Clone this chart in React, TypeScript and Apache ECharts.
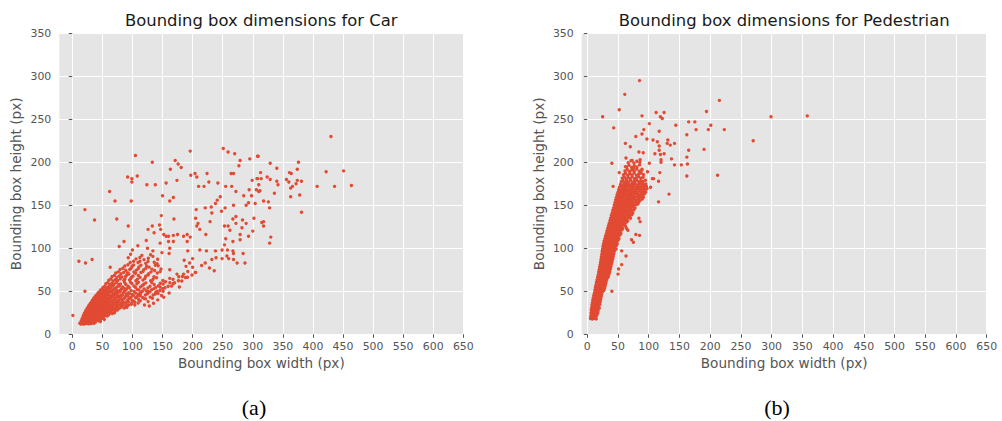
import React, { useEffect, useRef } from "react";
import * as echarts from "echarts";

// ---------- data ----------
const panelTitles = ["Bounding box dimensions for Car", "Bounding box dimensions for Pedestrian"];
const panelTags = ["(a)", "(b)"];
const xAxisName = "Bounding box width (px)";
const yAxisName = "Bounding box height (px)";
const xMax = 650;
const yMax = 350;
const tickStep = 50;

// Car: dense cluster of small boxes [width, height]
const carCluster: number[][] = [
  [12.5,12.8],[14.1,11.9],[15.6,13.6],[16.9,12.3],[18.4,13.1],[19.8,11.8],[21.5,12.9],[22.7,14.2],[24.3,12.4],[26.0,13.5],[27.6,12.1],[29.4,13.8],[31.2,12.6],[33.5,13.3],[36.1,12.8],[38.4,14.0],
  [14.8,15.4],[16.3,16.7],[17.7,14.9],[19.2,16.1],[20.6,15.2],[22.1,16.9],[23.9,15.6],[25.2,14.7],[26.8,16.4],[28.5,15.3],[30.1,16.8],[31.8,14.8],[33.4,16.2],[35.3,15.1],[37.0,16.6],[39.2,15.4],[41.5,16.9],[44.0,15.7],[46.8,14.9],
  [16.5,18.8],[18.1,17.4],[19.6,19.5],[21.3,18.1],[22.8,19.9],[24.5,17.6],[25.9,19.1],[27.4,18.3],[29.2,19.7],[30.7,17.5],[32.3,18.9],[34.0,17.8],[35.8,19.6],[37.6,18.2],[39.5,19.3],[41.2,17.6],[43.1,18.8],[45.4,19.7],[47.9,17.9],[50.6,18.6],[53.3,17.3],
  [18.2,21.6],[19.9,22.8],[21.4,20.7],[23.0,22.1],[24.6,23.4],[26.1,21.2],[27.9,22.6],[29.5,20.9],[31.0,23.1],[32.8,21.7],[34.4,22.9],[36.3,20.6],[38.0,22.3],[39.9,21.4],[41.7,23.2],[43.6,20.8],[45.5,22.4],[47.7,21.1],[50.0,22.7],[52.6,20.9],[55.2,22.2],[58.1,21.3],[61.0,22.9],
  [20.1,24.6],[21.8,25.7],[23.4,23.9],[25.0,25.3],[26.7,24.1],[28.3,25.9],[30.0,24.4],[31.7,25.6],[33.3,23.8],[35.0,25.1],[36.8,24.2],[38.6,25.8],[40.4,24.5],[42.3,23.7],[44.1,25.4],[46.2,24.0],[48.4,25.6],[50.5,23.8],[52.9,25.2],[55.4,24.1],[58.0,25.7],[60.7,24.3],[63.5,25.5],[66.6,24.2],[70.2,25.1],
  [22.3,27.4],[24.0,28.6],[25.6,26.7],[27.3,28.1],[29.0,26.9],[30.6,28.7],[32.4,27.2],[34.1,28.3],[35.9,26.6],[37.7,27.9],[39.4,28.8],[41.3,26.8],[43.2,28.0],[45.2,27.1],[47.3,28.7],[49.5,26.9],[51.8,28.2],[54.2,27.3],[56.7,28.9],[59.3,26.8],[62.0,28.1],[64.9,27.0],[68.0,28.5],[71.4,27.4],[75.1,28.2],
  [24.8,30.4],[26.5,31.6],[28.2,29.8],[29.9,31.2],[31.7,30.1],[33.4,31.8],[35.2,29.6],[37.1,30.9],[39.0,31.7],[40.9,29.9],[42.8,31.3],[44.9,30.2],[47.0,31.9],[49.2,29.7],[51.5,31.0],[53.9,30.4],[56.4,31.8],[59.0,29.8],[61.8,31.1],[64.7,30.3],[67.8,31.6],[71.0,29.9],[74.5,31.4],[78.2,30.2],[82.1,31.7],[86.3,30.5],[90.8,31.3],
  [27.4,33.3],[29.2,34.6],[31.0,32.7],[32.8,34.0],[34.6,33.1],[36.5,34.8],[38.4,32.6],[40.4,33.9],[42.4,34.7],[44.5,32.8],[46.6,34.2],[48.8,33.0],[51.1,34.6],[53.5,32.5],[56.0,33.8],[58.6,34.9],[61.3,32.9],[64.1,34.1],[67.1,33.2],[70.3,34.7],[73.6,32.8],[77.1,34.0],[80.8,33.1],[84.7,34.5],[88.9,32.7],[93.4,33.9],[98.1,34.8],
  [30.2,36.2],[32.1,37.4],[34.0,35.7],[35.9,37.1],[37.9,36.0],[39.9,37.8],[42.0,35.6],[44.1,36.9],[46.3,37.7],[48.6,35.8],[51.0,37.2],[53.4,36.1],[56.0,37.6],[58.7,35.5],[61.5,36.8],[64.4,37.9],[67.5,35.9],[70.7,37.1],[74.1,36.2],[77.7,37.5],[81.4,35.8],[85.3,37.0],[89.5,36.1],[94.0,37.4],[98.8,35.9],[104.0,37.2],[109.5,36.3],
  [33.1,39.2],[35.1,40.5],[37.2,38.6],[39.3,40.1],[41.4,39.0],[43.6,40.8],[45.9,38.5],[48.2,39.8],[50.6,40.6],[53.1,38.8],[55.7,40.2],[58.4,39.1],[61.2,40.7],[64.1,38.4],[67.2,39.7],[70.4,40.9],[73.8,38.8],[77.3,40.0],[82.3,39.6],[85.1,41.0],[90.7,38.4],[92.6,40.3],[99.4,39.7],[102.1,38.6],[110.2,40.4],[113.0,38.9],[121.8,41.2],
  [36.0,42.3],[38.2,43.6],[40.4,41.7],[42.6,43.1],[44.9,42.0],[47.3,43.8],[49.8,41.5],[52.4,42.8],[55.1,43.7],[57.9,41.8],[60.8,43.2],[63.8,42.1],[67.0,43.6],[70.3,41.4],[73.8,42.7],[77.4,43.9],[80.1,42.6],[86.7,42.0],[88.5,43.9],[95.2,41.9],[97.6,43.1],[105.3,42.4],[107.9,44.0],[116.8,42.7],[119.6,41.5],[129.5,43.2],[133.1,42.0],
  [39.4,45.1],[41.7,46.4],[44.1,44.6],[46.5,46.0],[49.0,45.0],[51.6,46.7],[54.3,44.5],[57.1,45.8],[60.0,46.6],[63.1,44.7],[66.3,46.1],[69.6,45.1],[73.1,46.6],[76.8,44.4],[80.6,45.7],[83.2,45.3],[89.9,46.9],[92.1,44.6],[99.6,46.3],[101.7,45.0],[109.8,46.6],[112.5,44.9],[121.4,45.8],[124.7,47.0],[134.4,45.6],[138.0,46.9],[148.3,45.2],
  [43.0,48.3],[45.5,49.5],[48.0,47.6],[50.6,49.0],[53.3,48.0],[56.1,49.7],[59.0,47.5],[62.0,48.8],[65.2,49.6],[68.5,47.7],[72.0,49.1],[75.6,48.1],[79.4,49.6],[84.7,48.0],[86.3,49.9],[93.6,48.4],[95.0,47.3],[102.9,49.7],[105.2,47.9],[113.6,48.6],[116.4,50.0],[125.5,47.8],[128.8,49.3],[138.7,48.7],[142.6,47.6],
  [47.0,51.4],[49.7,52.6],[52.4,50.7],[55.2,52.1],[58.2,51.0],[61.3,52.8],[64.5,50.5],[67.9,51.8],[71.4,52.7],[75.1,50.8],[80.2,51.5],[82.0,53.0],[88.6,51.2],[90.5,52.9],[97.8,50.9],[107.9,52.0],[110.8,51.4],[119.4,52.8],[122.6,50.6],[131.9,51.8],[135.7,53.1],[145.8,51.0],[150.4,53.3],
  [51.3,54.6],[54.2,55.9],[57.2,53.8],[60.3,55.3],[63.6,54.2],[67.0,56.1],[70.6,53.7],[74.4,55.0],[78.3,56.2],[83.8,55.1],[85.5,53.7],[92.7,55.8],[94.8,54.1],[102.5,56.2],[104.9,54.6],[113.4,55.0],[116.5,56.7],[125.6,54.0],[129.2,55.9],[139.0,54.8],[143.5,56.5],[154.2,54.1],[159.3,55.9],
  [55.8,58.7],[59.0,60.1],[62.3,57.9],[65.8,59.4],[69.4,58.3],[73.2,60.3],[77.2,57.8],[80.0,58.4],[87.2,59.9],[89.1,58.0],[96.7,60.6],[99.0,59.1],[107.3,58.7],[110.0,60.4],[119.0,58.2],[122.3,59.8],[132.0,60.3],[136.0,58.0],[146.4,59.3],[151.1,58.5],[162.2,60.0],[167.7,58.8],
  [60.7,62.9],[64.2,64.3],[67.8,62.0],[71.6,63.6],[75.6,62.5],[79.8,64.5],[85.7,62.6],[87.3,64.0],[95.2,63.1],[97.3,64.8],[105.7,62.2],[108.4,63.9],[117.4,63.0],[120.7,64.9],[130.3,62.4],[134.3,64.1],[150.6,62.5],[167.5,63.9],[176.4,62.2],
  [66.1,67.1],[69.9,68.5],[73.9,66.2],[78.1,67.8],[82.5,66.7],[88.6,67.3],[90.5,68.9],[98.6,66.4],[101.0,67.9],[109.7,68.3],[112.7,66.2],[122.0,67.6],[125.7,68.9],[135.7,67.0],[140.1,65.8],[183.0,67.2],[191.5,66.4],
  [72.3,71.2],[76.5,72.6],[80.9,70.3],[85.5,71.9],[91.9,71.5],[94.0,70.1],[102.4,72.4],[105.1,70.9],[114.1,71.8],[117.4,73.1],[127.0,70.5],[131.0,72.6],[141.3,71.3],[146.1,72.9],[204.5,71.8],
  [79.5,75.3],[84.1,76.7],[88.9,74.4],[95.5,75.4],[97.9,76.8],[106.5,74.6],[109.5,76.3],[118.8,75.0],[122.4,76.9],[132.4,75.8],[136.8,74.2],[147.5,76.0],
  [87.4,79.4],[92.5,80.8],[99.3,79.2],[101.9,80.6],[110.8,78.3],[114.1,80.4],[123.7,79.5],[127.7,78.1],[138.1,80.2],[142.8,79.6],
  [96.2,83.5],[101.8,85.0],[109.2,83.4],[112.4,84.9],[122.0,82.5],[125.9,84.6],[136.2,83.8],[140.9,82.2],
  [105.9,87.7],[112.4,89.4],[119.2,86.8],[126.4,88.5],[134.0,90.6],[141.9,87.3],[115.7,91.8],[130.1,92.4],
  [170,60],[182,62],[188,66],[205,72],[215,80],[165,56],[185,70],[135,36],[142,40],[120,34],[128,33],
];

// Car: scattered mid-size boxes
const carMid: number[][] = [
  [1,22],[11,85],[22,83],[33,87],[21,50],[63,78],[78,102],[86,108],[93,89],[97,93],[100,98],[109,103],[123,109],[125,100],[134,97],
  [146,106],[156,114],[160,108],[168,108],[162,100],[161,94],[149,95],[185,114],[191,108],[192,97],[186,86],[200,88],[195,83],[189,79],
  [200,78],[192,73],[199,69],[177,67],[178,55],[174,70],[162,75],[162,65],[161,48],[152,43],[212,98],[223,97],[238,97],[249,98],[258,98],
  [239,89],[232,87],[221,83],[228,77],[236,74],[249,88],[257,91],[267,97],[267,108],[279,110],[268,87],[260,88],[146,55],[141,50],
  [155,61],[151,50],[126,50],[113,46],[126,38],[104,34],[287,83],[274,83],[262,121],[253,104],[268,94],[284,94],[272,129],
];

// Car: upper spread of large boxes
const carUpper: number[][] = [
  [105,208],[196,213],[251,216],[259,212],[270,210],[308,207],[133,200],[171,202],[176,198],[181,194],[163,192],[197,185],[204,187],[207,183],
  [224,187],[279,202],[277,196],[295,204],[264,187],[268,187],[92,183],[99,181],[99,177],[108,184],[124,174],[138,174],[156,176],[174,179],
  [62,166],[71,155],[98,155],[21,145],[37,133],[74,134],[93,126],[150,161],[162,155],[168,159],[148,138],[169,134],[126,122],[133,126],
  [136,118],[145,127],[147,122],[152,116],[160,114],[168,115],[175,116],[191,116],[196,113],[209,129],[207,126],[212,122],[222,116],
  [205,135],[206,145],[221,147],[231,148],[232,141],[229,131],[238,152],[241,156],[246,160],[248,143],[254,147],[210,172],[219,172],
  [227,177],[242,176],[255,172],[265,172],[272,166],[285,161],[293,153],[298,161],[289,150],[310,166],[307,181],[299,179],[294,168],
  [268,150],[272,137],[267,134],[259,126],[253,126],[283,133],[289,129],[302,135],[282,124],[300,120],[293,114],[279,116],[255,111],
];

// Car: far right (very wide boxes)
const carFar: number[][] = [
  [430,230],[309,207],[329,199],[376,200],[340,193],[313,188],[361,188],[364,187],[374,192],[422,189],[451,190],[324,183],[329,180],
  [314,181],[308,181],[340,178],[342,174],[356,180],[360,177],[374,179],[381,178],[372,175],[366,172],[363,170],[407,172],[436,172],
  [464,173],[310,174],[306,168],[312,167],[336,164],[363,160],[378,162],[318,155],[326,154],[328,147],[304,152],[381,142],[315,130],
  [318,126],[330,113],[328,106],[318,131],
];

// Pedestrian: dense narrow band, lower half
const pedBandLow: number[][] = [
  [5.2,18.3],[6.9,19.6],[8.3,17.8],[9.8,19.1],[11.4,18.6],[13.1,19.8],[14.6,17.9],
  [5.6,21.4],[7.1,22.7],[8.8,20.9],[10.3,22.2],[11.9,21.1],[13.5,22.9],[15.2,21.6],
  [6.1,24.8],[7.6,23.5],[9.2,25.6],[10.8,24.2],[12.3,25.9],[14.0,23.7],[15.6,25.1],[17.1,24.4],
  [6.5,27.9],[8.1,26.6],[9.7,28.5],[11.2,27.1],[12.8,28.8],[14.4,26.8],[16.0,28.2],[17.6,27.4],
  [7.0,30.6],[8.6,31.8],[10.1,29.7],[11.7,31.2],[13.3,30.1],[14.9,31.9],[16.5,29.8],[18.1,31.0],[19.5,30.4],
  [7.6,33.9],[9.1,32.7],[10.7,34.6],[12.3,33.2],[13.8,34.9],[15.5,32.8],[17.1,34.1],[18.7,33.4],[20.2,34.7],
  [8.2,36.4],[9.8,37.7],[11.3,35.8],[12.9,37.2],[14.5,36.1],[16.1,37.9],[17.8,35.6],[19.4,36.8],[21.0,37.5],
  [8.9,39.6],[10.5,38.4],[12.0,40.5],[13.6,39.1],[15.2,40.8],[16.9,38.7],[18.5,40.0],[20.1,39.3],[21.8,40.6],
  [9.7,42.3],[11.2,43.6],[12.8,41.7],[14.4,43.2],[16.0,42.0],[17.7,43.9],[19.3,41.6],[21.0,42.8],[22.6,43.5],
  [10.6,45.5],[12.1,44.3],[13.7,46.4],[15.3,45.0],[16.9,46.7],[18.6,44.6],[20.2,45.9],[21.9,45.2],[23.5,46.5],
  [11.5,48.2],[13.0,49.6],[14.6,47.5],[16.2,49.0],[17.9,48.0],[19.5,49.8],[21.2,47.6],[22.9,48.7],[24.6,49.5],
  [12.4,51.4],[13.9,52.7],[15.5,50.6],[17.2,52.1],[18.8,51.0],[20.5,52.9],[22.2,50.7],[23.9,51.8],[25.7,52.5],[27.3,51.2],
  [13.2,54.6],[14.8,53.4],[16.4,55.5],[18.1,54.1],[19.8,55.8],[21.5,53.7],[23.2,55.0],[24.9,54.3],[26.7,55.6],[28.4,54.0],
  [14.1,57.3],[15.7,58.6],[17.3,56.5],[19.0,58.1],[20.7,57.0],[22.4,58.9],[24.2,56.6],[25.9,57.8],[27.7,58.5],[29.5,57.1],
  [15.0,60.5],[16.6,59.3],[18.2,61.4],[19.9,60.0],[21.6,61.7],[23.4,59.6],[25.1,60.9],[26.9,60.2],[28.7,61.5],[30.5,59.9],
  [15.9,63.2],[17.5,64.5],[19.2,62.4],[20.9,64.0],[22.6,62.9],[24.4,64.8],[26.1,62.5],[27.9,63.7],[29.8,64.4],[31.6,63.0],
  [16.8,66.4],[18.4,65.2],[20.1,67.3],[21.8,65.9],[23.6,67.6],[25.3,65.5],[27.1,66.8],[28.9,66.1],[30.8,67.4],[32.7,65.8],[34.3,66.9],
  [17.7,69.1],[19.3,70.4],[21.0,68.3],[22.8,69.9],[24.5,68.8],[26.3,70.7],[28.1,68.4],[30.0,69.6],[31.9,70.3],[33.8,68.9],[35.5,70.0],
  [18.5,72.3],[20.2,71.1],[21.9,73.2],[23.7,71.8],[25.4,73.5],[27.2,71.4],[29.1,72.7],[31.0,72.0],[32.9,73.3],[34.8,71.7],[36.6,72.8],
  [19.3,75.0],[21.0,76.3],[22.8,74.2],[24.6,75.8],[26.3,74.7],[28.1,76.6],[30.0,74.3],[31.9,75.5],[33.8,76.2],[35.7,74.8],[37.6,75.9],
  [20.1,78.2],[21.8,77.0],[23.6,79.1],[25.4,77.7],[27.2,79.4],[29.0,77.3],[30.9,78.6],[32.8,77.9],[34.7,79.2],[36.7,77.6],[38.6,78.7],
  [20.9,81.0],[22.6,82.3],[24.4,80.2],[26.2,81.8],[28.0,80.7],[29.9,82.6],[31.8,80.3],[33.7,81.5],[35.6,82.2],[37.6,80.8],[39.6,81.9],
  [21.6,84.2],[23.4,83.0],[25.2,85.1],[27.0,83.7],[28.8,85.4],[30.7,83.3],[32.6,84.6],[34.5,83.9],[36.5,85.2],[38.5,83.6],[40.5,84.7],
  [22.3,87.0],[24.1,88.3],[25.9,86.2],[27.8,87.8],[29.6,86.7],[31.5,88.6],[33.4,86.3],[35.4,87.5],[37.4,88.2],[39.4,86.8],[41.5,87.9],
  [23.0,90.2],[24.8,89.0],[26.6,91.1],[28.5,89.7],[30.4,91.4],[32.3,89.3],[34.2,90.6],[36.2,89.9],[38.2,91.2],[40.3,89.6],[42.4,90.7],
  [23.6,93.0],[25.4,94.3],[27.3,92.2],[29.2,93.8],[31.1,92.7],[33.0,94.6],[35.0,92.3],[37.0,93.5],[39.0,94.2],[41.1,92.8],[43.3,93.9],
  [24.2,96.2],[26.0,95.0],[27.9,97.1],[29.8,95.7],[31.7,97.4],[33.7,95.3],[35.7,96.6],[37.7,95.9],[39.8,97.2],[41.9,95.6],[44.1,96.7],
];

// Pedestrian: dense band, upper half
const pedBandHigh: number[][] = [
  [24.8,99.0],[26.6,100.3],[28.5,98.2],[30.4,99.8],[32.4,98.7],[34.4,100.6],[36.4,98.3],[38.4,99.5],[40.5,100.2],[42.7,98.8],[44.9,99.9],[47.0,99.2],
  [25.5,102.2],[27.3,101.0],[29.2,103.1],[31.2,101.7],[33.1,103.4],[35.1,101.3],[37.1,102.6],[39.2,101.9],[41.3,103.2],[43.5,101.6],[45.7,102.7],[47.8,103.4],
  [26.3,105.0],[28.1,106.3],[30.0,104.2],[32.0,105.8],[33.9,104.7],[35.9,106.6],[38.0,104.3],[40.1,105.5],[42.2,106.2],[44.4,104.8],[46.6,105.9],[48.8,105.2],
  [27.3,108.2],[29.1,107.0],[31.0,109.1],[33.0,107.7],[35.0,109.4],[37.0,107.3],[39.1,108.6],[41.2,107.9],[43.4,109.2],[45.6,107.6],[47.9,108.7],[50.1,109.4],
  [28.5,111.0],[30.3,112.3],[32.2,110.2],[34.2,111.8],[36.2,110.7],[38.2,112.6],[40.3,110.3],[42.5,111.5],[44.7,112.2],[46.9,110.8],[49.2,111.9],[51.5,111.2],
  [29.7,114.2],[31.5,113.0],[33.5,115.1],[35.5,113.7],[37.5,115.4],[39.6,113.3],[41.7,114.6],[43.9,113.9],[46.1,115.2],[48.4,113.6],[50.7,114.7],[53.0,115.4],
  [30.9,117.0],[32.8,118.3],[34.7,116.2],[36.8,117.8],[38.8,116.7],[40.9,118.6],[43.1,116.3],[45.3,117.5],[47.6,118.2],[49.9,116.8],[52.3,117.9],[54.7,117.2],
  [32.0,120.2],[33.9,119.0],[35.9,121.1],[38.0,119.7],[40.1,121.4],[42.2,119.3],[44.5,120.6],[46.7,119.9],[49.0,121.2],[51.4,119.6],[53.8,120.7],[56.3,121.4],
  [33.2,123.0],[35.1,124.3],[37.2,122.2],[39.3,123.8],[41.4,122.7],[43.6,124.6],[45.9,122.3],[48.2,123.5],[50.5,124.2],[52.9,122.8],[55.4,123.9],[57.9,123.2],
  [34.4,126.2],[36.4,125.0],[38.5,127.1],[40.6,125.7],[42.8,127.4],[45.0,125.3],[47.3,126.6],[49.7,125.9],[52.1,127.2],[54.5,125.6],[57.0,126.7],[59.6,127.4],[62.2,126.0],
  [35.6,129.0],[37.6,130.3],[39.7,128.2],[41.9,129.8],[44.1,128.7],[46.4,130.6],[48.8,128.3],[51.2,129.5],[53.6,130.2],[56.1,128.8],[58.7,129.9],[61.3,129.2],[64.0,130.5],
  [36.8,132.2],[38.9,131.0],[41.0,133.1],[43.2,131.7],[45.5,133.4],[47.8,131.3],[50.2,132.6],[52.6,131.9],[55.1,133.2],[57.7,131.6],[60.3,132.7],[63.0,133.4],[65.8,132.0],
  [38.0,135.0],[40.1,136.3],[42.3,134.2],[44.6,135.8],[46.9,134.7],[49.3,136.6],[51.7,134.3],[54.2,135.5],[56.7,136.2],[59.3,134.8],[62.0,135.9],[64.8,135.2],[67.6,136.5],[70.3,135.0],
  [39.2,138.2],[41.4,137.0],[43.6,139.1],[45.9,137.7],[48.3,139.4],[50.7,137.3],[53.2,138.6],[55.7,137.9],[58.3,139.2],[61.0,137.6],[63.7,138.7],[66.5,139.4],[69.4,138.0],[72.2,138.9],
  [40.4,141.0],[42.6,142.3],[44.9,140.2],[47.2,141.8],[49.7,140.7],[52.1,142.6],[54.7,140.3],[57.2,141.5],[59.9,142.2],[62.6,140.8],[65.4,141.9],[68.2,141.2],[71.1,142.5],[74.1,141.0],
  [41.6,144.2],[43.9,143.0],[46.2,145.1],[48.6,143.7],[51.0,145.4],[53.6,143.3],[56.1,144.6],[58.8,143.9],[61.5,145.2],[64.2,143.6],[67.1,144.7],[70.0,145.4],[72.9,144.0],[76.0,144.9],
  [42.8,147.0],[45.1,148.3],[47.5,146.2],[49.9,147.8],[52.4,146.7],[55.0,148.6],[57.6,146.3],[60.3,147.5],[63.0,148.2],[65.8,146.8],[68.7,147.9],[71.6,147.2],[74.6,148.5],[77.7,147.0],
  [43.9,150.2],[46.3,149.0],[48.7,151.1],[51.2,149.7],[53.7,151.4],[56.3,149.3],[59.0,150.6],[61.7,149.9],[64.5,151.2],[67.3,149.6],[70.2,150.7],[73.2,151.4],[76.2,150.0],[79.4,150.9],[82.5,151.6],
  [45.0,153.0],[47.4,154.3],[49.9,152.2],[52.4,153.8],[55.0,152.7],[57.6,154.6],[60.3,152.3],[63.1,153.5],[65.9,154.2],[68.8,152.8],[71.8,153.9],[74.8,153.2],[77.9,154.5],[81.1,153.0],[84.3,154.1],
  [46.1,156.2],[48.6,155.0],[51.1,157.1],[53.7,155.7],[56.3,157.4],[59.0,155.3],[61.8,156.6],[64.6,155.9],[67.5,157.2],[70.4,155.6],[73.4,156.7],[76.5,157.4],[79.7,156.0],[82.9,156.9],[86.2,156.2],[89.5,157.3],
  [47.3,159.0],[49.8,160.3],[52.4,158.2],[55.0,159.8],[57.7,158.7],[60.4,160.6],[63.2,158.3],[66.1,159.5],[69.0,160.2],[72.0,158.8],[75.0,159.9],[78.1,159.2],[81.3,160.5],[84.6,159.0],[87.9,160.1],[91.3,159.4],
  [48.5,162.2],[51.0,161.0],[53.7,163.1],[56.3,161.7],[59.1,163.4],[61.9,161.3],[64.7,162.6],[67.6,161.9],[70.6,163.2],[73.6,161.6],[76.7,162.7],[79.9,163.4],[83.1,162.0],[86.4,162.9],[89.8,162.2],[93.2,163.3],
  [49.8,165.0],[52.4,166.3],[55.0,164.2],[57.8,165.8],[60.5,164.7],[63.4,166.6],[66.3,164.3],[69.2,165.5],[72.2,166.2],[75.3,164.8],[78.4,165.9],[81.6,165.2],[84.9,166.5],[88.2,165.0],[91.6,166.1],[95.0,165.4],
  [51.1,168.2],[53.8,167.0],[56.5,169.1],[59.3,167.7],[62.1,169.4],[65.0,167.3],[68.0,168.6],[71.0,167.9],[74.1,169.2],[77.2,167.6],[80.4,168.7],[83.7,169.4],[87.0,168.0],[90.4,168.9],[93.8,168.2],[97.3,169.3],
  [52.5,171.0],[55.2,172.3],[58.0,170.2],[60.8,171.8],[63.7,170.7],[66.7,172.6],[69.7,170.3],[72.8,171.5],[75.9,172.2],[79.1,170.8],[82.4,171.9],[85.7,171.2],[89.1,172.5],[92.6,171.0],[96.1,172.1],
  [53.9,174.2],[56.7,173.0],[59.6,175.1],[62.5,173.7],[65.5,175.4],[68.5,173.3],[71.6,174.6],[74.8,173.9],[78.0,175.2],[81.3,173.6],[84.7,174.7],[88.1,175.4],[91.6,174.0],[95.2,174.9],
  [55.4,177.4],[58.3,178.9],[61.2,176.6],[64.3,178.2],[67.3,177.1],[70.5,179.3],[73.7,176.8],[77.0,178.0],[80.4,179.0],[83.8,177.3],[87.3,178.5],[90.9,177.7],[94.6,179.1],
  [57.0,181.5],[60.1,183.0],[63.2,180.7],[66.4,182.4],[69.7,181.2],[73.0,183.5],[76.4,180.9],[79.9,182.1],[83.5,183.2],[87.1,181.4],[90.8,182.7],
  [59.0,185.6],[62.3,187.2],[65.7,184.8],[69.2,186.6],[72.7,185.4],[76.3,187.6],[80.0,185.1],[83.8,186.3],[87.6,187.4],[91.5,185.7],
  [61.3,189.9],[65.0,191.7],[68.8,189.2],[72.6,191.1],[76.5,189.8],[80.5,192.2],[84.6,189.5],[88.7,190.8],
  [63.8,194.6],[67.9,196.5],[72.1,194.0],[76.4,195.9],[80.7,194.5],[85.1,197.0],
  [66.6,199.6],[71.2,201.7],[75.9,199.1],[80.7,201.3],[85.5,200.0],
];

// Pedestrian: scattered outliers
const pedSparse: number[][] = [
  [85,295],[61,279],[25,253],[52,261],[89,254],[112,258],[125,258],[119,253],[122,251],[194,259],[215,272],[299,253],[358,254],
  [101,245],[165,247],[175,247],[144,243],[201,243],[197,238],[177,238],[223,238],[43,240],[92,238],[89,233],[117,236],[79,230],
  [162,232],[270,225],[97,227],[107,226],[114,224],[131,226],[142,222],[62,222],[70,218],[117,219],[117,214],[165,214],[190,215],
  [84,212],[91,211],[86,203],[73,202],[63,205],[119,209],[120,200],[137,204],[142,197],[153,197],[162,206],[163,198],[40,199],
  [52,188],[62,195],[75,193],[89,192],[98,189],[106,181],[116,178],[101,199],[133,163],[162,184],[212,185],[42,172],[64,174],
  [91,170],[103,171],[108,181],[118,188],[125,210],[110,210],[130,222],[135,220],[120,203],
  [40,50],[50,70],[51,76],[56,81],[63,91],[56,97],[72,110],[75,107],[79,116],[85,115],[86,131],[84,135],[116,154],[64,123],[66,121],
];

const carData = [...carCluster, ...carMid, ...carUpper, ...carFar];
const pedData = [...pedBandLow, ...pedBandHigh, ...pedSparse];

// ---------- layout ----------
const panels = [
  { left: 59.3, zeroX: 72.3, right: 463.3, xMin: -21.6, tagX: 254, data: carData },
  { left: 581.7, zeroX: 587.3, right: 986.7, xMin: -9.1, tagX: 777, data: pedData },
];
const top = 33.3;
const height = 301;
const grey = "#555555";
const font = "DejaVu Sans";

export default function App() {
  const ref = useRef<HTMLDivElement>(null);
  useEffect(() => {
    if (!ref.current) return;
    const chart = echarts.init(ref.current, undefined, { renderer: "svg" });
    const grid: any[] = [];
    const xAxis: any[] = [];
    const yAxis: any[] = [];
    const series: any[] = [];
    const graphic: any[] = [];
    panels.forEach((p, i) => {
      grid.push({ left: p.left, top, width: p.right - p.left, height, show: true, backgroundColor: "#E5E5E5", borderWidth: 0, z: 0 });
      grid.push({ left: p.zeroX, top, width: p.right - p.zeroX, height, show: false });
      xAxis.push({
        gridIndex: 2 * i, type: "value", min: p.xMin, max: xMax,
        axisLine: { show: false }, axisTick: { show: false }, axisLabel: { show: false }, splitLine: { show: false },
        name: xAxisName, nameLocation: "middle", nameGap: 22,
        nameTextStyle: { color: grey, fontSize: 13.6, fontFamily: font },
      });
      xAxis.push({
        gridIndex: 2 * i + 1, type: "value", min: 0, max: xMax, interval: tickStep, z: 2,
        axisLine: { show: false },
        axisTick: { show: true, length: 3.5, lineStyle: { color: grey, width: 1 } },
        axisLabel: { color: grey, fontSize: 10.9, fontFamily: font, margin: 7 },
        splitLine: { show: true, lineStyle: { color: "#ffffff", width: 1 } },
      });
      yAxis.push({
        gridIndex: 2 * i, type: "value", min: 0, max: yMax, interval: tickStep, z: 2,
        axisLine: { show: false },
        axisTick: { show: true, length: 3.5, lineStyle: { color: grey, width: 1 } },
        axisLabel: { color: grey, fontSize: 10.9, fontFamily: font, margin: 8 },
        splitLine: { show: true, lineStyle: { color: "#ffffff", width: 1 } },
        name: yAxisName, nameLocation: "middle", nameGap: 36,
        nameTextStyle: { color: grey, fontSize: 13.6, fontFamily: font },
      });
      yAxis.push({ gridIndex: 2 * i + 1, type: "value", min: 0, max: 1, show: false });
      series.push({
        type: "scatter", xAxisIndex: 2 * i, yAxisIndex: 2 * i, data: p.data,
        symbol: "circle", symbolSize: 3.4, z: 5, clip: false,
        itemStyle: { color: "#E24A33", opacity: 1 },
      });
      graphic.push({
        type: "text", x: (p.left + p.right) / 2, y: 20.5,
        style: { text: panelTitles[i], align: "center", verticalAlign: "middle", fontSize: 16.4, fontFamily: font, fill: "#1a1a1a" },
      });
      graphic.push({
        type: "text", x: p.tagX, y: 407,
        style: { text: panelTags[i], align: "center", verticalAlign: "middle", fontSize: 22, fontFamily: "Liberation Serif", fill: "#000000" },
      });
    });
    chart.setOption({ animation: false, backgroundColor: "#ffffff", grid, xAxis, yAxis, series, graphic });
    return () => chart.dispose();
  }, []);
  return <div ref={ref} style={{ position: "fixed", left: 0, top: 0, width: 1002, height: 421 }} />;
}
